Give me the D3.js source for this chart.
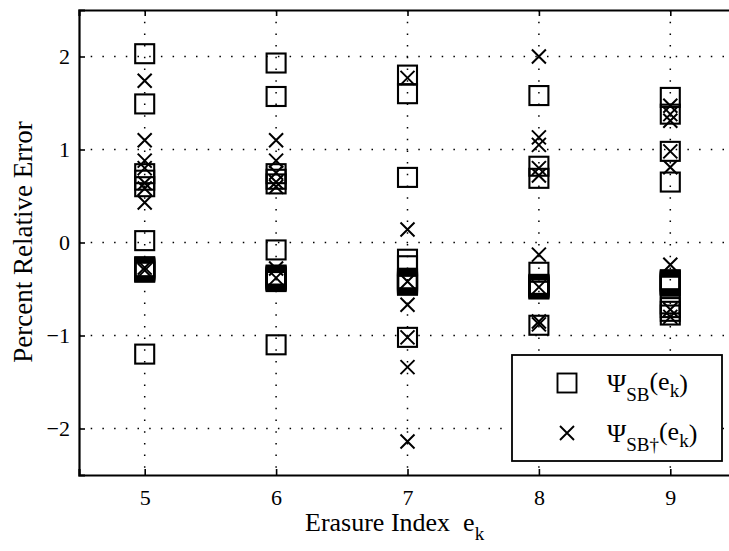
<!DOCTYPE html>
<html>
<head>
<meta charset="utf-8">
<script src="https://cdn.jsdelivr.net/npm/d3@7"></script>
<style>
  body { margin: 0; background: #fff; }
  svg text { font-family: "Liberation Serif", "DejaVu Serif", serif; fill: #000; }
</style>
</head>
<body>
<svg id="chart" width="729" height="551"></svg>
<script>
// ---------------------------------------------------------------------------
// data

const erasureIndex = [5, 6, 7, 8, 9];
const xTicks = [5, 6, 7, 8, 9];
const yTicks = [-2, -1, 0, 1, 2];

// Psi_SB(e_k) -- squares
const sbValues = [
  [2.03, 1.49, 0.74, 0.67, 0.6, 0.02, -0.26, -0.27, -0.28, -0.29, -0.3, -0.31, -0.32, -1.2],
  [1.93, 1.57, 0.74, 0.68, 0.63, -0.08, -0.35, -0.36, -0.37, -0.38, -0.39, -0.4, -0.41, -0.42, -1.1],
  [1.8, 1.6, 0.7, -0.18, -0.25, -0.39, -0.4, -0.41, -0.42, -0.43, -0.44, -0.45, -0.46, -1.02],
  [1.58, 0.82, 0.69, -0.32, -0.45, -0.46, -0.47, -0.48, -0.49, -0.5, -0.89],
  [1.56, 1.38, 0.98, 0.65, -0.4, -0.41, -0.42, -0.43, -0.44, -0.45, -0.46, -0.47, -0.66, -0.7, -0.74, -0.78]
];

// Psi_SB+(e_k) -- crosses
const sbDaggerValues = [
  [1.74, 1.1, 0.88, 0.8, 0.64, 0.58, 0.43, -0.27, -0.3],
  [1.1, 0.88, 0.75, 0.65, 0.6, -0.28, -0.38],
  [1.77, 0.14, -0.42, -0.67, -1.02, -1.34, -2.14],
  [2.0, 1.13, 1.05, 0.8, 0.72, -0.13, -0.48, -0.85, -0.88],
  [1.47, 1.38, 1.31, 0.98, 0.81, -0.24, -0.72, -0.8]
];

// ---------------------------------------------------------------------------
// layout

const svg = d3.select("#chart");
const plotLeft = 79, plotTop = 10, plotRight = 736, plotBottom = 475;

const x = d3.scaleLinear().domain([4.5, 9.5]).range([plotLeft, plotRight]);
const y = d3.scaleLinear().domain([-2.5, 2.5]).range([plotBottom, plotTop]);

// grid (dotted)
const grid = svg.append("g");
grid.selectAll(".gx")
  .data(xTicks)
  .join("line")
  .attr("x1", d => x(d)).attr("x2", d => x(d))
  .attr("y1", plotTop).attr("y2", plotBottom)
  .attr("stroke", "#000").attr("stroke-width", 1.5)
  .attr("stroke-dasharray", "1.5,10.2");
grid.selectAll(".gy")
  .data(yTicks)
  .join("line")
  .attr("x1", plotLeft).attr("x2", plotRight)
  .attr("y1", d => y(d)).attr("y2", d => y(d))
  .attr("stroke", "#000").attr("stroke-width", 1.5)
  .attr("stroke-dasharray", "1.5,10.2");

// axes
const xAxis = svg.append("g")
  .attr("transform", `translate(0,${plotBottom})`)
  .call(d3.axisBottom(x).tickValues(xTicks).tickSize(-6).tickPadding(14).tickFormat(d3.format("d")));
const xTop = svg.append("g")
  .attr("transform", `translate(0,${plotTop})`)
  .call(d3.axisTop(x).tickValues(xTicks).tickSize(-6).tickFormat(""));
const yAxis = svg.append("g")
  .attr("transform", `translate(${plotLeft},0)`)
  .call(d3.axisLeft(y).tickValues(yTicks).tickSize(-6).tickPadding(9).tickFormat(d => d < 0 ? "\u2212" + Math.abs(d) : d));

[xAxis, xTop, yAxis].forEach(g => {
  g.select(".domain").attr("stroke", "#000").attr("stroke-width", 2.2);
  g.selectAll(".tick line").attr("stroke", "#000").attr("stroke-width", 1.6);
  g.selectAll("text")
    .style("font-family", "'Liberation Serif', serif")
    .style("font-size", "22px")
    .attr("fill", "#000");
});

// ---------------------------------------------------------------------------
// markers

const squares = [];
const crosses = [];
erasureIndex.forEach((e, i) => {
  sbValues[i].forEach(v => squares.push({ e: e, v: v }));
  sbDaggerValues[i].forEach(v => crosses.push({ e: e, v: v }));
});

const sq = 19;
svg.append("g")
  .selectAll("rect")
  .data(squares)
  .join("rect")
  .attr("x", d => x(d.e) - sq / 2)
  .attr("y", d => y(d.v) - sq / 2)
  .attr("width", sq)
  .attr("height", sq)
  .attr("fill", "none")
  .attr("stroke", "#000")
  .attr("stroke-width", 2.1);

const cr = 7;
svg.append("g")
  .selectAll("path")
  .data(crosses)
  .join("path")
  .attr("d", d => {
    const cx = x(d.e), cy = y(d.v);
    return `M${cx - cr},${cy - cr}L${cx + cr},${cy + cr}M${cx - cr},${cy + cr}L${cx + cr},${cy - cr}`;
  })
  .attr("fill", "none")
  .attr("stroke", "#000")
  .attr("stroke-width", 2);

// ---------------------------------------------------------------------------
// legend

const legend = svg.append("g");
legend.append("rect")
  .attr("x", 512).attr("y", 355)
  .attr("width", 210).attr("height", 106)
  .attr("fill", "#fff").attr("stroke", "#000").attr("stroke-width", 1.8);

legend.append("rect")
  .attr("x", 567 - 9.5).attr("y", 383 - 9.5)
  .attr("width", sq).attr("height", sq)
  .attr("fill", "none").attr("stroke", "#000").attr("stroke-width", 1.9);
legend.append("path")
  .attr("d", `M${567 - cr},${433 - cr}L${567 + cr},${433 + cr}M${567 - cr},${433 + cr}L${567 + cr},${433 - cr}`)
  .attr("fill", "none").attr("stroke", "#000").attr("stroke-width", 1.9);

const legendLabels = ["SB", "SB\u2020"];
legendLabels.forEach((sub, i) => {
  const t = legend.append("text")
    .attr("x", 607).attr("y", 392 + i * 50)
    .style("font-size", "26px");
  t.append("tspan").text("\u03A8");
  t.append("tspan").attr("dy", 9).style("font-size", "19px").text(sub);
  t.append("tspan").attr("dy", -11).text("(e");
  t.append("tspan").attr("dy", 7).style("font-size", "19px").text("k");
  t.append("tspan").attr("dy", -5).text(")");
});

// ---------------------------------------------------------------------------
// axis titles

const xt = svg.append("text")
  .attr("x", 305).attr("y", 531)
  .style("font-size", "26px");
xt.append("tspan").text("Erasure Index\u00A0\u00A0e");
xt.append("tspan").attr("dy", 9).style("font-size", "19px").text("k");

svg.append("text")
  .attr("transform", "translate(32,242) rotate(-90)")
  .attr("text-anchor", "middle")
  .style("font-size", "27px")
  .text("Percent Relative Error");
</script>
</body>
</html>
